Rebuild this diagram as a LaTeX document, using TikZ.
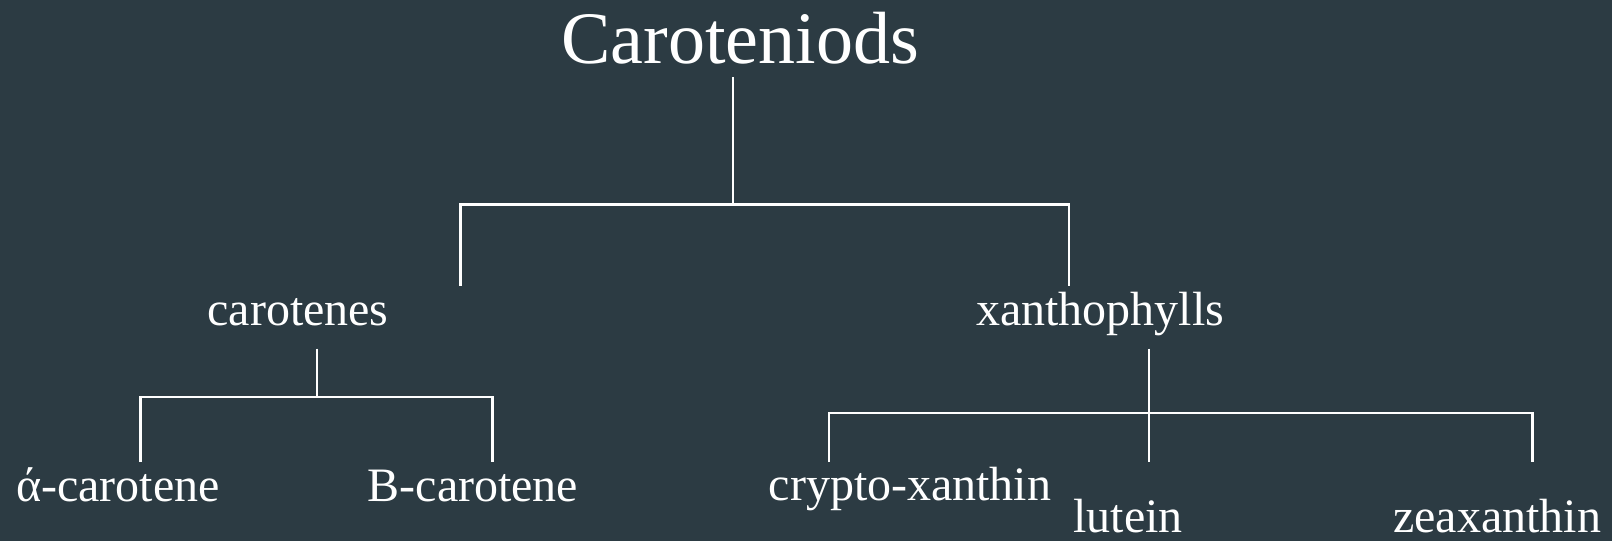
\documentclass[tikz,border=0pt]{standalone}
\usepackage{fontspec}
\setmainfont{Liberation Serif}
\usepackage{tikz}
\usepackage{xcolor}
\definecolor{slate}{RGB}{44,59,67}
\tikzset{
    tree-title/.style = {text=white, font=\fontsize{74}{80}\selectfont, anchor=base, inner sep=0pt},
    tree-label/.style = {text=white, font=\fontsize{48}{54}\selectfont, anchor=base, inner sep=0pt},
    tree-line/.style = {draw=white, line width=2.5pt},
}

\begin{document}
\begin{tikzpicture}[x=1pt, y=-1pt]
\fill[slate] (0,0) rectangle (1612,541);
\useasboundingbox (0,0) rectangle (1612,541);

\node[tree-title] (caroteniods) at (740,63) {Caroteniods};
\node[tree-label] (carotenes) at (298,325) {carotenes};
\node[tree-label] (xanthophylls) at (1100,325) {xanthophylls};
\node[tree-label] (alpha) at (118,501) {ά-carotene};
\node[tree-label] (beta) at (473,501) {B-carotene};
\node[tree-label] (crypto) at (910,500) {crypto-xanthin};
\node[tree-label] (lutein) at (1128,532) {lutein};
\node[tree-label] (zea) at (1497,532) {zeaxanthin};

% fork points and loose ends
\coordinate (root-fork) at (733,204.5);
\coordinate (root-l) at (460.5,204.5);
\coordinate (root-r) at (1069,204.5);
\coordinate (car-fork) at (317,397);
\coordinate (car-l) at (140.5,397);
\coordinate (car-r) at (492.5,397);
\coordinate (xan-fork) at (1149,413);
\coordinate (xan-l) at (829,413);
\coordinate (xan-r) at (1532.5,413);

\draw[tree-line, shorten <=13pt] (caroteniods.south -| root-fork) -- (root-fork);
\draw[tree-line] ([yshift=-81pt]root-l) -- (root-l) -- (root-r) -- ([yshift=-81pt]root-r);

\draw[tree-line, shorten <=23pt] (carotenes.south -| car-fork) -- (car-fork);
\draw[tree-line] ([yshift=-65pt]car-l) -- (car-l) -- (car-r) -- ([yshift=-65pt]car-r);

\draw[tree-line, shorten <=13pt] (xanthophylls.south -| xan-fork) -- ([yshift=-49pt]xan-fork);
\draw[tree-line] ([yshift=-49pt]xan-l) -- (xan-l) -- (xan-r) -- ([yshift=-49pt]xan-r);
\end{tikzpicture}
\end{document}
